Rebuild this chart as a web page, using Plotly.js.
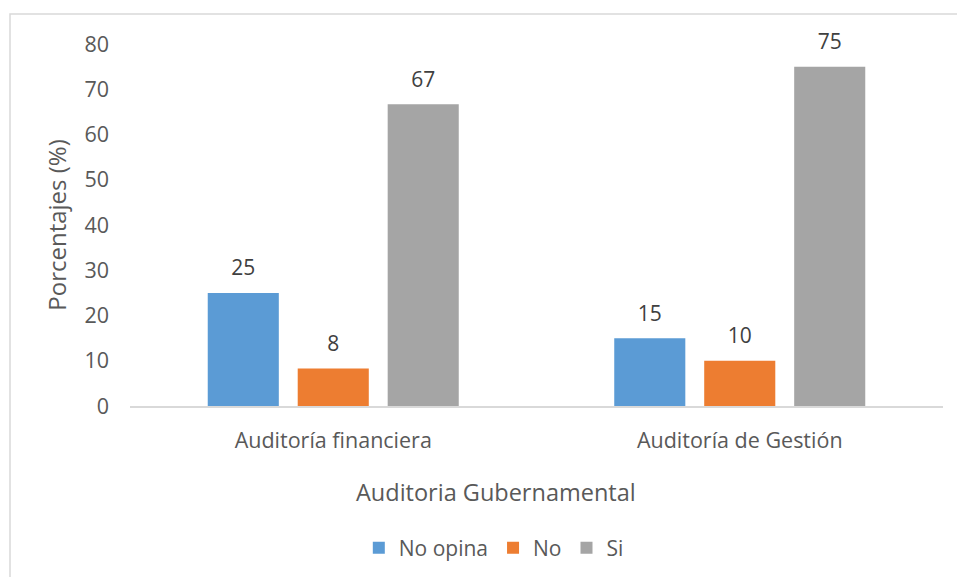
<!DOCTYPE html>
<html>
<head>
<meta charset="utf-8">
<script src="https://cdn.plot.ly/plotly-3.0.1.min.js"></script>
<style>html,body{margin:0;padding:0;background:#fff;}#chart{width:957px;height:577px;}</style>
</head>
<body>
<div id="chart"></div>
<script>
var categories = ["Auditoría financiera", "Auditoría de Gestión"];
var seriesNames = ["No opina", "No", "Si"];
var noOpina = [25, 15];
var no = [8.3, 10];
var si = [66.7, 75];
var yTicks = [0, 10, 20, 30, 40, 50, 60, 70, 80];
var colors = ["#5B9BD5", "#ED7D31", "#A5A5A5"];
var xTitle = "Auditoria Gubernamental";
var yTitle = "Porcentajes (%)";
var allSeries = [noOpina, no, si];

var FONT = "'Open Sans', sans-serif";
var traces = [];
allSeries.forEach(function(vals, i) {
  traces.push({
    type: "bar", x: categories, y: vals, name: seriesNames[i],
    marker: {color: colors[i]}, hoverinfo: "skip"
  });
});
allSeries.forEach(function(vals, i) {
  traces.push({
    type: "scatter", mode: "markers+text", x: categories, y: vals,
    text: vals.map(function(v){ return String(Math.round(v)); }),
    textposition: "top center",
    textfont: {family: FONT, size: 21, color: "#404040"},
    marker: {size: 18, color: "rgba(0,0,0,0)"},
    showlegend: false, hoverinfo: "skip", cliponaxis: false
  });
});

var layout = {
  width: 957, height: 577,
  margin: {l: 130, r: 14, t: 44, b: 171},
  paper_bgcolor: "#fff", plot_bgcolor: "#fff",
  font: {family: FONT, color: "#595959", size: 21},
  barmode: "group", bargap: 0.336, bargroupgap: 0.21,
  scattermode: "group", scattergap: 0.336,
  xaxis: {
    type: "category", showline: true, linecolor: "#D9D9D9", linewidth: 2,
    showgrid: false, zeroline: false, ticks: "", ticklabelstandoff: 14,
    tickfont: {family: FONT, size: 21.5, color: "#595959"}
  },
  yaxis: {
    range: [0, 80], tickvals: yTicks, showline: false, showgrid: false, zeroline: false,
    ticks: "", ticklabelstandoff: 20,
    tickfont: {family: FONT, size: 21.5, color: "#595959"},
    title: {text: yTitle, font: {family: FONT, size: 24, color: "#595959"}, standoff: 11}
  },
  annotations: [{
    text: xTitle, xref: "paper", yref: "paper", x: 0.45, y: -0.2376,
    xanchor: "center", yanchor: "middle", showarrow: false,
    font: {family: FONT, size: 23.5, color: "#595959"}
  }],
  legend: {
    orientation: "h", xref: "container", yref: "container",
    x: 0.516, xanchor: "center", y: 0.05, yanchor: "middle",
    font: {family: FONT, size: 21, color: "#595959"},
    itemwidth: 30, traceorder: "normal"
  },
  shapes: [{
    type: "rect", xref: "paper", yref: "paper",
    x0: -0.1476, x1: 1.2, y0: -0.7, y1: 1.0829,
    line: {color: "#D9D9D9", width: 1.5}, fillcolor: "rgba(0,0,0,0)", layer: "below"
  }],
  showlegend: true
};

Plotly.newPlot("chart", traces, layout, {staticPlot: true, displayModeBar: false});
</script>
</body>
</html>
